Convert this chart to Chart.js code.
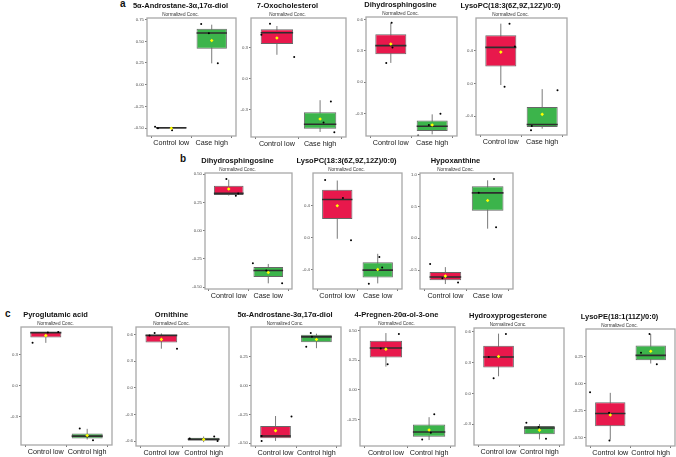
<!DOCTYPE html>
<html>
<head>
<meta charset="utf-8">
<script src="https://cdn.jsdelivr.net/npm/chart.js@4.4.1/dist/chart.umd.min.js"></script>
<style>
html, body { margin: 0; padding: 0; background: #fff; }
#wrap { position: relative; width: 676px; height: 457px; overflow: hidden; font-family: "Liberation Sans", Arial, sans-serif; }
#wrap canvas { position: absolute; }
.tag { position: absolute; font-weight: bold; font-size: 10px; line-height: 10px; color: #111; }
</style>
</head>
<body>
<div id="wrap">
  <div class="tag" style="left:120px;top:-1px">a</div>
  <div class="tag" style="left:180px;top:154px">b</div>
  <div class="tag" style="left:5px;top:309px">c</div>
</div>
<script>
// one entry per panel: a1-a4, b1-b3, c1-c6; pairs are [control, other group]
const titles = ['5α-Androstane-3α,17α-diol', '7-Oxocholesterol', 'Dihydrosphingosine', 'LysoPC(18:3(6Z,9Z,12Z)/0:0)',
    'Dihydrosphingosine', 'LysoPC(18:3(6Z,9Z,12Z)/0:0)', 'Hypoxanthine',
    'Pyroglutamic acid', 'Ornithine', '5α-Androstane-3α,17α-diol', '4-Pregnen-20α-ol-3-one', 'Hydroxyprogesterone', 'LysoPE(18:1(11Z)/0:0)'];
const groups = [
    ['Control low', 'Case high'], ['Control low', 'Case high'], ['Control low', 'Case high'], ['Control low', 'Case high'],
    ['Control low', 'Case low'], ['Control low', 'Case low'], ['Control low', 'Case low'],
    ['Control low', 'Control high'], ['Control low', 'Control high'], ['Control low', 'Control high'],
    ['Control low', 'Control high'], ['Control low', 'Control high'], ['Control low', 'Control high']];

const yMin = [-0.592, -0.56, -0.517, -0.627, -0.515, -0.64, -0.797, -0.573, -0.656, -0.524, -0.472, -0.505, -0.578];
const yMax = [0.769, 0.582, 0.626, 0.794, 0.509, 0.81, 1.026, 0.566, 0.687, 0.508, 0.528, 0.639, 0.507];
const yTicks = [
    [0.75, 0.5, 0.25, 0, -0.25, -0.5], [0.3, 0, -0.3], [0.6, 0.3, 0, -0.3], [0.4, 0, -0.4],
    [0.5, 0.25, 0, -0.25, -0.5], [0.4, 0, -0.4], [1, 0.5, 0, -0.5],
    [0.3, 0, -0.3], [0.6, 0.3, 0, -0.3, -0.6], [0.25, 0, -0.25, -0.5], [0.5, 0.25, 0, -0.25], [0.6, 0.3, 0, -0.3], [0.25, 0, -0.25, -0.5]];
const yTickLabels = [
    ['0.75', '0.50', '0.25', '0.00', '-0.25', '-0.50'], ['0.3', '0.0', '-0.3'], ['0.6', '0.3', '0.0', '-0.3'], ['0.4', '0.0', '-0.4'],
    ['0.50', '0.25', '0.00', '-0.25', '-0.50'], ['0.4', '0.0', '-0.4'], ['1.0', '0.5', '0.0', '-0.5'],
    ['0.3', '0.0', '-0.3'], ['0.6', '0.3', '0.0', '-0.3', '-0.6'], ['0.25', '0.00', '-0.25', '-0.50'],
    ['0.50', '0.25', '0.00', '-0.25'], ['0.6', '0.3', '0.0', '-0.3'], ['0.25', '0.00', '-0.25', '-0.50']];

const q1s = [[-0.507, 0.415], [0.332, -0.48], [0.268, -0.469], [0.205, -0.53], [0.315, -0.41], [0.236, -0.495], [-0.661, 0.432],
    [0.464, -0.51], [0.513, -0.598], [-0.457, 0.376], [0.272, -0.394], [0.253, -0.4], [-0.396, 0.218]];
const medians = [[-0.497, 0.596], [0.441, -0.438], [0.351, -0.424], [0.437, -0.5], [0.329, -0.352], [0.478, -0.404], [-0.609, 0.714],
    [0.512, -0.487], [0.592, -0.579], [-0.437, 0.422], [0.351, -0.354], [0.355, -0.339], [-0.277, 0.262]];
const q3s = [[-0.49, 0.646], [0.473, -0.322], [0.46, -0.367], [0.583, -0.286], [0.397, -0.32], [0.601, -0.306], [-0.531, 0.818],
    [0.518, -0.462], [0.6, -0.564], [-0.35, 0.44], [0.413, -0.292], [0.466, -0.32], [-0.172, 0.355]];
const whiskLow = [[-0.507, 0.246], [0.229, -0.512], [0.185, -0.501], [-0.02, -0.55], [0.31, -0.465], [-0.012, -0.57], [-0.719, 0.151],
    [0.413, -0.52], [0.442, -0.613], [-0.48, 0.324], [0.195, -0.422], [0.167, -0.45], [-0.52, 0.187]];
const whiskHigh = [[-0.49, 0.692], [0.505, -0.207], [0.568, -0.309], [0.725, -0.07], [0.45, -0.294], [0.716, -0.2], [-0.453, 0.911],
    [0.518, -0.417], [0.615, -0.549], [-0.264, 0.45], [0.477, -0.23], [0.584, -0.3], [-0.085, 0.46]];
const means = [[-0.503, 0.51], [0.39, -0.387], [0.367, -0.411], [0.38, -0.376], [0.368, -0.37], [0.4, -0.396], [-0.594, 0.594],
    [0.483, -0.481], [0.547, -0.583], [-0.391, 0.399], [0.342, -0.337], [0.361, -0.36], [-0.29, 0.3]];
const dotsY = [
    [[-0.485, -0.502, -0.527], [0.70, 0.592, 0.246]],
    [[0.528, 0.422, 0.207], [-0.22, -0.422, -0.515]],
    [[0.571, 0.332, 0.185], [-0.303, -0.411, -0.513]],
    [[0.725, 0.449, -0.04], [-0.085, -0.518, -0.57]],
    [[0.456, 0.309, 0.329], [-0.288, -0.465, -0.352]],
    [[0.724, 0.498, -0.03], [-0.24, -0.372, -0.575]],
    [[-0.406, -0.63, -0.693], [0.932, 0.714, 0.172]],
    [[0.413, 0.518, 0.512], [-0.414, -0.526, -0.49]],
    [[0.62, 0.59, 0.442], [-0.571, -0.549, -0.6]],
    [[-0.437, -0.48, -0.269], [0.455, 0.423, 0.336]],
    [[0.469, 0.348, 0.215], [-0.205, -0.36, -0.417]],
    [[0.58, 0.355, 0.147], [-0.287, -0.33, -0.445]],
    [[-0.08, -0.27, -0.526], [0.46, 0.287, 0.18]]];
// horizontal jitter of each dot, in category units
const dotsJitter = [
    [[-0.40, -0.33, 0.02], [-0.26, -0.07, 0.15]],
    [[-0.16, -0.36, 0.40], [0.25, 0.08, 0.33]],
    [[0.02, 0.04, -0.11], [0.2, -0.08, -0.34]],
    [[0.21, 0.34, 0.09], [0.37, -0.25, -0.27]],
    [[-0.06, 0.18, 0.24], [-0.39, 0.35, -0.05]],
    [[-0.3, 0.14, 0.34], [0.04, 0.11, -0.22]],
    [[-0.36, -0.07, 0.3], [0.15, -0.21, 0.2]],
    [[-0.32, 0.3, 0.05], [-0.18, 0.14, 0.0]],
    [[-0.16, -0.28, 0.37], [-0.33, 0.25, 0.33]],
    [[-0.34, -0.34, 0.39], [-0.14, -0.11, -0.25]],
    [[0.3, -0.12, 0.04], [0.12, 0.04, -0.16]],
    [[0.18, -0.24, -0.12], [-0.32, -0.02, 0.16]],
    [[-0.5, -0.03, -0.02], [-0.03, -0.24, 0.15]]];

// layout: plot frame [left, top, right, bottom] in page pixels
const frames = [
    [147, 17.5, 236, 135.5], [251, 17.5, 346, 136], [366, 17, 457, 136], [476, 18, 567, 135],
    [205, 173, 292, 288.8], [313, 173, 402, 288.8], [420, 173, 513, 288.8],
    [21, 327, 112, 445], [136, 326.5, 229, 445], [251, 326.5, 341, 445], [360, 326.5, 455, 445],
    [474, 328, 564, 445], [586, 328.5, 675, 445]];

const FONT = '"Liberation Sans", Arial, sans-serif';
const PAD_X = 22;
const TOP_H = 17;
const AXIS_H = 14;
const BOX_W = 0.75;
const fills = ['#e8184c', '#3cb44b'];

const framePlugin = {
    id: 'frame',
    afterDatasetsDraw(chart) {
        const { ctx, chartArea: a } = chart;
        ctx.save();
        ctx.strokeStyle = '#a8a8a8';
        ctx.lineWidth = 1.3;
        ctx.strokeRect(a.left, a.top, a.right - a.left, a.bottom - a.top);
        ctx.restore();
    }
};

const wrap = document.getElementById('wrap');

frames.forEach((f, i) => {
    const [l, t, r, b] = f;
    const w = Math.round(r - l + 2 * PAD_X);
    const h = Math.round(TOP_H + (b - t) + AXIS_H);
    const cv = document.createElement('canvas');
    cv.width = w;
    cv.height = h;
    cv.style.left = (l - PAD_X) + 'px';
    cv.style.top = (t - TOP_H) + 'px';
    cv.style.width = w + 'px';
    cv.style.height = h + 'px';
    wrap.appendChild(cv);

    const whiskers = [];
    const medianSegs = [];
    const dots = [];
    [0, 1].forEach(g => {
        if (g === 1) {
            whiskers.push({ x: 0.5, y: null });
            medianSegs.push({ x: 0.5, y: null });
        }
        whiskers.push({ x: g, y: whiskLow[i][g] }, { x: g, y: whiskHigh[i][g] });
        medianSegs.push({ x: g - BOX_W / 2, y: medians[i][g] }, { x: g + BOX_W / 2, y: medians[i][g] });
        dotsY[i][g].forEach((v, k) => dots.push({ x: g + dotsJitter[i][g][k], y: v }));
    });

    new Chart(cv, {
        type: 'bar',
        data: {
            datasets: [
                {
                    type: 'line',
                    data: whiskers,
                    borderColor: '#7a7a7a',
                    borderWidth: 1,
                    pointRadius: 0,
                    spanGaps: false,
                    order: 4
                },
                {
                    type: 'bar',
                    data: [0, 1].map(g => ({ x: g, y: [q1s[i][g], q3s[i][g]] })),
                    backgroundColor: fills,
                    borderColor: '#676767',
                    borderWidth: 1,
                    borderSkipped: false,
                    categoryPercentage: BOX_W,
                    barPercentage: 1,
                    order: 3
                },
                {
                    type: 'line',
                    data: medianSegs,
                    borderColor: '#2e2e2e',
                    borderWidth: 1.6,
                    pointRadius: 0,
                    spanGaps: false,
                    order: 2
                },
                {
                    type: 'scatter',
                    data: dots,
                    pointRadius: 1,
                    pointBackgroundColor: '#000',
                    pointBorderWidth: 0,
                    order: 1
                },
                {
                    type: 'scatter',
                    data: [0, 1].map(g => ({ x: g, y: means[i][g] })),
                    pointStyle: 'rectRot',
                    pointRadius: 1.8,
                    pointBackgroundColor: '#ffff00',
                    pointBorderWidth: 0,
                    order: 0
                }
            ]
        },
        options: {
            responsive: false,
            animation: false,
            events: [],
            layout: { padding: { left: 0, right: PAD_X, top: 0, bottom: 0 } },
            scales: {
                x: {
                    type: 'linear',
                    min: -0.6,
                    max: 1.6,
                    offset: false,
                    afterBuildTicks: axis => { axis.ticks = [{ value: 0 }, { value: 1 }]; },
                    afterFit: axis => { axis.height = AXIS_H; },
                    ticks: {
                        autoSkip: false,
                        maxRotation: 0,
                        padding: 0.5,
                        color: '#1a1a1a',
                        font: { family: FONT, size: 7.2 },
                        callback: v => groups[i][v]
                    },
                    grid: { drawOnChartArea: false, tickLength: 2, tickColor: '#555', lineWidth: 0.8 },
                    border: { display: false }
                },
                y: {
                    type: 'linear',
                    min: yMin[i],
                    max: yMax[i],
                    afterBuildTicks: axis => { axis.ticks = yTicks[i].map(v => ({ value: v })); },
                    afterFit: axis => { axis.width = PAD_X; },
                    ticks: {
                        autoSkip: false,
                        padding: 1,
                        color: '#4d4d4d',
                        font: { family: FONT, size: 4.3 },
                        callback: (v, k) => yTickLabels[i][k]
                    },
                    grid: { drawOnChartArea: false, tickLength: 2, tickColor: '#555', lineWidth: 0.8 },
                    border: { display: false }
                }
            },
            plugins: {
                legend: { display: false },
                tooltip: { enabled: false },
                title: {
                    display: true,
                    text: titles[i],
                    color: '#111',
                    font: { family: FONT, size: 7.5, weight: 'bold', lineHeight: 1.2 },
                    padding: { top: 0, bottom: 1.74 }
                },
                subtitle: {
                    display: true,
                    text: 'Normalized Conc.',
                    color: '#333',
                    font: { family: FONT, size: 4.6, lineHeight: 1.2 },
                    padding: { top: 0, bottom: 0.74 }
                }
            }
        },
        plugins: [framePlugin]
    });
});
</script>
</body>
</html>
